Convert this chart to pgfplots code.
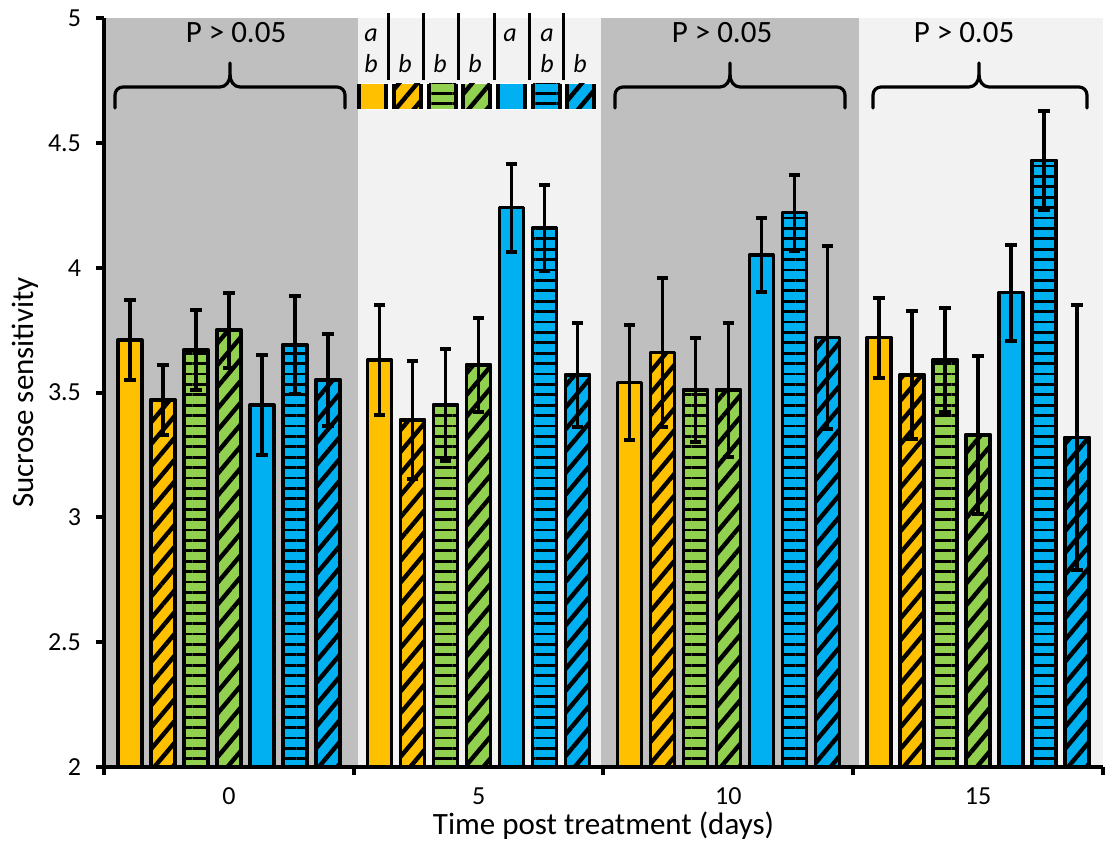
\documentclass[border=0pt]{standalone}
\usepackage{pgfplots}
\pgfplotsset{compat=1.18}
\usepackage{fontspec}
\setmainfont{Carlito}
\usetikzlibrary{patterns.meta}

\definecolor{cor}{HTML}{FFC000}
\definecolor{cgr}{HTML}{92D050}
\definecolor{cbl}{HTML}{00B0F0}
\definecolor{bgd}{HTML}{BFBFBF}
\definecolor{bgl}{HTML}{F2F2F2}

\tikzset{
 diag/.style={postaction={pattern={Lines[angle=50,distance=7pt,line width=2.2pt]},pattern color=black}},
 horiz/.style={postaction={pattern={Lines[angle=0,distance=5.2pt,line width=1.4pt]},pattern color=black}},
 plain/.style={},
}

\newcommand\mybrace[3]{%
 \draw[line width=1.6pt,line cap=round] (#1,329.5) -- (#1,336) to[out=90,in=180] (#1+4,340) -- (#2-5,340) to[out=0,in=-90] (#2,346) -- (#2,352);
 \draw[line width=1.6pt,line cap=round] (#2,346) to[out=-90,in=180] (#2+5,340) -- (#3-4,340) to[out=0,in=90] (#3,336) -- (#3,329.5);
}
\newcommand\swatch[3]{%
 \path[fill=#2,#3] (#1,329) rectangle ++(13.5,12.5);
 \draw[line width=1.6pt] (#1,329) -- ++(0,12.5) (#1+13.5,329) -- ++(0,12.5);
}

\begin{document}
\begin{tikzpicture}
\begin{axis}[
 scale only axis, width=499.5pt, height=374.5pt,
 xmin=-0.5, xmax=3.5, ymin=2, ymax=5,
 axis lines*=left,
 axis line style={line width=2pt},
 axis on top,
 ybar, bar width=12pt,
 ytick={2,2.5,...,5},
 xtick={-0.5,0.5,1.5,2.5,3.5}, xticklabels={},
 extra x ticks={0,1,2,3}, extra x tick labels={0,5,10,15},
 extra x tick style={major tick length=0pt},
 tick align=outside,
 major tick length=4pt,
 every tick/.style={black, line width=2pt},
 /pgf/number format/assume math mode=true,
 tick label style={font=\fontsize{13}{15}\selectfont},
 yticklabel style={xshift=-4pt},
 xticklabel style={yshift=-7pt},
 xlabel={Time post treatment (days)},
 ylabel={Sucrose sensitivity},
 label style={font=\fontsize{15.5}{18}\selectfont},
 xlabel style={at={(axis description cs:0.5,-0.0788)}, anchor=center},
 ylabel style={at={(axis description cs:-0.0791,0.5)}, anchor=center},
 every axis plot/.append style={draw=black, line width=1.75pt, line join=round},
 error bars/y dir=both, error bars/y explicit,
 error bars/error bar style={line width=1.75pt, black},
 error bars/error mark options={rotate=90, line width=2pt, mark size=2.9pt, black},
]
\fill[bgd] (axis cs:-0.5,2) rectangle (axis cs:0.517,5);
\fill[bgl] (axis cs:0.517,2) rectangle (axis cs:1.49,5);
\fill[bgd] (axis cs:1.49,2) rectangle (axis cs:2.523,5);
\fill[bgl] (axis cs:2.523,2) rectangle (axis cs:3.5,5);

\addplot[fill=cor, bar shift=-49.5pt] coordinates {(0,3.71) +- (0,0.16) (1,3.63) +- (0,0.22) (2,3.54) +- (0,0.23) (3,3.72) +- (0,0.16)};
\addplot[fill=cor, diag, bar shift=-33pt] coordinates {(0,3.47) +- (0,0.14) (1,3.39) +- (0,0.235) (2,3.66) +- (0,0.30) (3,3.57) +- (0,0.256)};
\addplot[fill=cgr, horiz, bar shift=-16.5pt] coordinates {(0,3.67) +- (0,0.16) (1,3.45) +- (0,0.226) (2,3.51) +- (0,0.21) (3,3.63) +- (0,0.21)};
\addplot[fill=cgr, diag, bar shift=0pt] coordinates {(0,3.75) +- (0,0.15) (1,3.61) +- (0,0.187) (2,3.51) +- (0,0.27) (3,3.33) +- (0,0.317)};
\addplot[fill=cbl, bar shift=16.5pt] coordinates {(0,3.45) +- (0,0.20) (1,4.24) +- (0,0.176) (2,4.05) +- (0,0.147) (3,3.90) +- (0,0.192)};
\addplot[fill=cbl, horiz, bar shift=33pt] coordinates {(0,3.69) +- (0,0.195) (1,4.16) +- (0,0.173) (2,4.22) +- (0,0.153) (3,4.43) +- (0,0.199)};
\addplot[fill=cbl, diag, bar shift=49.5pt] coordinates {(0,3.55) +- (0,0.184) (1,3.57) +- (0,0.207) (2,3.72) +- (0,0.365) (3,3.32) +- (0,0.53)};
\end{axis}
\pgfresetboundingbox
\path (-52pt,-37.5pt) rectangle (500.5pt,383.5pt);
\begin{scope}[x=1pt,y=1pt]
 \node[anchor=base, font=\fontsize{15.5}{18}\selectfont] at (66,362) {P > 0.05};
 \node[anchor=base, font=\fontsize{15.5}{18}\selectfont] at (309,362) {P > 0.05};
 \node[anchor=base, font=\fontsize{15.5}{18}\selectfont] at (430,362) {P > 0.05};
 \mybrace{5.5}{63}{120.5}
 \mybrace{255.5}{313}{370.5}
 \mybrace{384.5}{437.5}{491.5}
 % group 5 letters
 \fill[white] (127,328.5) rectangle (246,342);
 \foreach \xx in {142,159.5,177,195,212.5,229.5} {\draw[line width=1.5pt] (\xx,343.5) -- (\xx,377);}
 \begin{scope}[every node/.style={anchor=base, font=\fontsize{13}{15}\selectfont\itshape}]
 \node at (133.5,362.5) {a}; \node at (133.5,347) {b};
 \node at (150.5,347) {b};
 \node at (168,347) {b};
 \node at (185.5,347) {b};
 \node at (203,362.5) {a};
 \node at (221.5,362.5) {a}; \node at (221.5,347) {b};
 \node at (238,347) {b};
 \end{scope}
 \swatch{127.5}{cor}{plain}
 \swatch{145}{cor}{diag}
 \swatch{162.5}{cgr}{horiz}
 \swatch{179.5}{cgr}{diag}
 \swatch{197}{cbl}{plain}
 \swatch{214.5}{cbl}{horiz}
 \swatch{231.5}{cbl}{diag}
\end{scope}
\end{tikzpicture}
\end{document}
